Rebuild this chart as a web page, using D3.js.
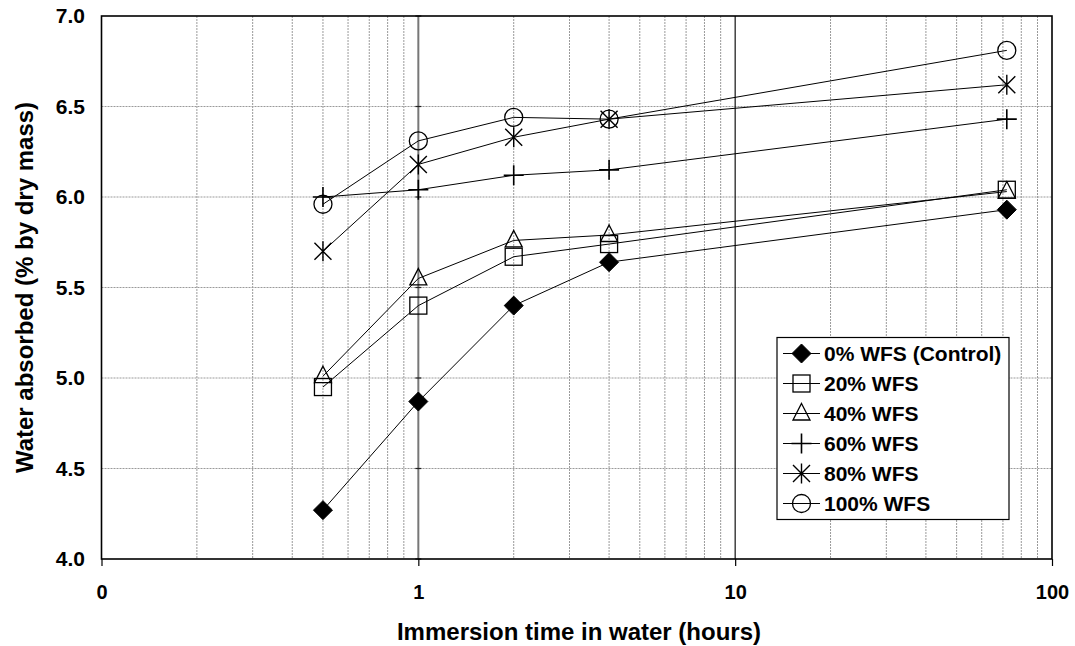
<!DOCTYPE html>
<html>
<head>
<meta charset="utf-8">
<script src="https://cdn.jsdelivr.net/npm/d3@7"></script>
<style>
  html, body { margin: 0; padding: 0; background: #fff; }
  svg { display: block; font-family: "Liberation Sans", Arial, sans-serif; }
</style>
</head>
<body>
<svg id="chart" width="1075" height="646"></svg>
<script>
// ---- data ----
const times = [0.5, 1, 2, 4, 72];
const seriesNames = ["0% WFS (Control)", "20% WFS", "40% WFS", "60% WFS", "80% WFS", "100% WFS"];
const wfs0   = [4.27, 4.87, 5.40, 5.64, 5.93];
const wfs20  = [4.95, 5.40, 5.67, 5.74, 6.04];
const wfs40  = [5.01, 5.55, 5.76, 5.79, 6.03];
const wfs60  = [6.00, 6.04, 6.12, 6.15, 6.43];
const wfs80  = [5.70, 6.18, 6.33, 6.43, 6.62];
const wfs100 = [5.96, 6.31, 6.44, 6.43, 6.81];
const markerTypes = ["diamond", "square", "triangle", "plus", "star", "circle"];
const xTickValues = [0.1, 1, 10, 100];
const xTickLabels = ["0", "1", "10", "100"];
const yTickValues = [4.0, 4.5, 5.0, 5.5, 6.0, 6.5, 7.0];
const xTitle = "Immersion time in water (hours)";
const yTitle = "Water absorbed (% by dry mass)";

const allSeries = [wfs0, wfs20, wfs40, wfs60, wfs80, wfs100];

// ---- layout ----
const L = 101.5, R = 1052, T = 16, B = 559;
const svg = d3.select("#chart");
const x = d3.scaleLog().domain([0.1, 100]).range([L, R]);
const y = d3.scaleLinear().domain([4, 7]).range([B, T]);

// minor vertical gridlines
const minor = [];
[0.1, 1, 10].forEach(dec => { for (let k = 2; k <= 9; k++) minor.push(dec * k); });
svg.append("g").selectAll("line").data(minor).join("line")
  .attr("x1", d => x(d)).attr("x2", d => x(d))
  .attr("y1", T).attr("y2", B)
  .attr("stroke", "#9a9a9a").attr("stroke-width", 1).attr("stroke-dasharray", "2,1");

// horizontal gridlines
svg.append("g").selectAll("line").data(yTickValues.filter(v => v > 4 && v < 7)).join("line")
  .attr("x1", L).attr("x2", R)
  .attr("y1", d => y(d)).attr("y2", d => y(d))
  .attr("stroke", "#9a9a9a").attr("stroke-width", 1).attr("stroke-dasharray", "2,1");

// major vertical line at 10
svg.append("line")
  .attr("x1", x(10)).attr("x2", x(10)).attr("y1", T).attr("y2", B)
  .attr("stroke", "#111").attr("stroke-width", 1.2);

// value axis crossing at x = 1 (gray line with cross ticks)
svg.append("line")
  .attr("x1", x(1)).attr("x2", x(1)).attr("y1", T).attr("y2", B)
  .attr("stroke", "#777").attr("stroke-width", 2);
svg.append("g").selectAll("line").data(yTickValues).join("line")
  .attr("x1", x(1) - 3).attr("x2", x(1) + 3)
  .attr("y1", d => y(d)).attr("y2", d => y(d))
  .attr("stroke", "#222").attr("stroke-width", 1.2);

// plot border
svg.append("rect")
  .attr("x", L).attr("y", T).attr("width", R - L).attr("height", B - T)
  .attr("fill", "none").attr("stroke", "#000").attr("stroke-width", 1.6);

// x axis
const xAxis = d3.axisBottom(x).tickValues(xTickValues)
  .tickFormat((d, i) => xTickLabels[i]).tickSizeInner(7).tickSizeOuter(0).tickPadding(19);
const gx = svg.append("g").attr("transform", `translate(0,${B})`).call(xAxis);
gx.select(".domain").remove();
gx.selectAll(".tick line").attr("stroke", "#000").attr("stroke-width", 1.2);
gx.selectAll(".tick text").attr("font-size", 20).attr("font-weight", "bold").attr("fill", "#000")
  .attr("font-family", "Liberation Sans, Arial, sans-serif");

// y axis labels
const yAxis = d3.axisLeft(y).tickValues(yTickValues).tickFormat(d3.format(".1f"))
  .tickSizeInner(0).tickSizeOuter(0).tickPadding(16.5);
const gy = svg.append("g").attr("transform", `translate(${L},0)`).call(yAxis);
gy.select(".domain").remove();
gy.selectAll(".tick text").attr("font-size", 21).attr("font-weight", "bold").attr("fill", "#000")
  .attr("font-family", "Liberation Sans, Arial, sans-serif");

// axis titles
svg.append("text").attr("x", 579).attr("y", 640)
  .attr("text-anchor", "middle").attr("font-size", 24).attr("font-weight", "bold")
  .text(xTitle);
svg.append("text").attr("transform", `translate(33,${(T + B) / 2 }) rotate(-90)`)
  .attr("text-anchor", "middle").attr("font-size", 24).attr("font-weight", "bold")
  .text(yTitle);

// marker drawing
function drawMarker(g, type, cx, cy) {
  const s = 9;
  switch (type) {
    case "diamond":
      g.append("path").attr("d", `M${cx},${cy - s - 0.5}L${cx + s + 0.5},${cy}L${cx},${cy + s + 0.5}L${cx - s - 0.5},${cy}Z`)
        .attr("fill", "#000").attr("stroke", "#000");
      break;
    case "square":
      g.append("rect").attr("x", cx - 8.5).attr("y", cy - 8.5).attr("width", 17).attr("height", 17)
        .attr("fill", "none").attr("stroke", "#000").attr("stroke-width", 1.3);
      break;
    case "triangle":
      g.append("path").attr("d", `M${cx},${cy - 10}L${cx + 8.5},${cy + 6.5}L${cx - 8.5},${cy + 6.5}Z`)
        .attr("fill", "none").attr("stroke", "#000").attr("stroke-width", 1.3);
      break;
    case "plus":
      g.append("path").attr("d", `M${cx - 10},${cy}L${cx + 10},${cy}M${cx},${cy - 10}L${cx},${cy + 10}`)
        .attr("fill", "none").attr("stroke", "#000").attr("stroke-width", 1.6);
      break;
    case "star":
      g.append("path").attr("d",
        `M${cx - 8.5},${cy - 8.5}L${cx + 8.5},${cy + 8.5}M${cx + 8.5},${cy - 8.5}L${cx - 8.5},${cy + 8.5}M${cx},${cy - 10}L${cx},${cy + 10}`)
        .attr("fill", "none").attr("stroke", "#000").attr("stroke-width", 1.4);
      break;
    case "circle":
      g.append("circle").attr("cx", cx).attr("cy", cy).attr("r", 9)
        .attr("fill", "none").attr("stroke", "#000").attr("stroke-width", 1.3);
      break;
  }
}

// series
const line = d3.line().x(d => x(d[0])).y(d => y(d[1]));
allSeries.forEach((vals, si) => {
  const pts = times.map((t, i) => [t, vals[i]]);
  const g = svg.append("g");
  g.append("path").attr("d", line(pts)).attr("fill", "none").attr("stroke", "#000").attr("stroke-width", 1);
  pts.forEach(p => drawMarker(g, markerTypes[si], x(p[0]), y(p[1])));
});

// legend
const lg = svg.append("g");
lg.append("rect").attr("x", 777).attr("y", 337.5).attr("width", 232).attr("height", 182)
  .attr("fill", "#fff").attr("stroke", "#000").attr("stroke-width", 1.2);
seriesNames.forEach((name, i) => {
  const cy = 353.5 + i * 30;
  lg.append("line").attr("x1", 783).attr("x2", 820).attr("y1", cy).attr("y2", cy)
    .attr("stroke", "#000").attr("stroke-width", 1);
  drawMarker(lg, markerTypes[i], 801.5, cy);
  lg.append("text").attr("x", 824).attr("y", cy + 7.5).attr("font-size", 21).attr("font-weight", "bold")
    .text(name);
});
</script>
</body>
</html>
